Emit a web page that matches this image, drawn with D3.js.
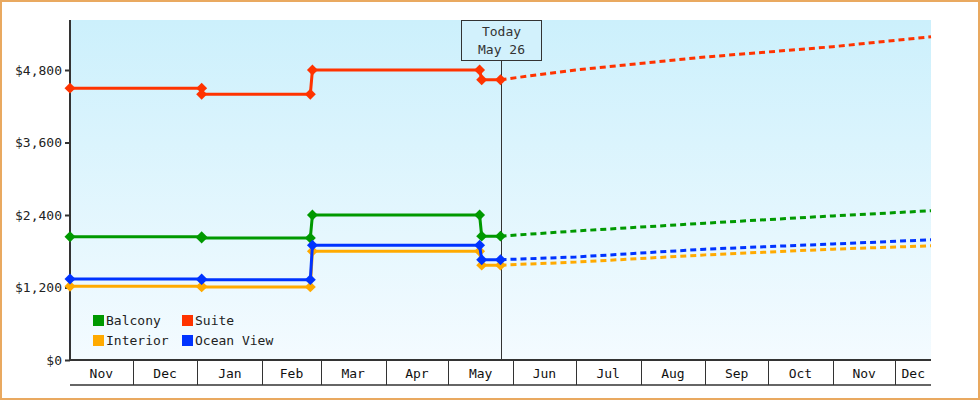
<!DOCTYPE html>
<html>
<head>
<meta charset="utf-8">
<script src="https://cdn.jsdelivr.net/npm/d3@7"></script>
<style>
body{margin:0;background:#fff;}
svg{display:block;font-family:"DejaVu Sans Mono",monospace;}
</style>
</head>
<body>
<div class="canvas"></div>
<script>
var W = 980, H = 400;
var margin = {t:20,l:70,b:40,r:49},
    width = W-margin.l-margin.r,
    height = H-margin.t-margin.b;

var p = d3.timeParse("%Y-%m-%d");

// history: step points (date, price)
var seriesNames = ["Balcony","Suite","Interior","Ocean View"];
var colors = ["#009900","#ff3300","#ffaa00","#0033ff"];

var histDates = ["2022-11-01","2023-01-03","2023-01-03","2023-02-24","2023-02-25","2023-05-16","2023-05-17","2023-05-26"];
var balconyHist  = [2040,2040,2020,2020,2400,2400,2050,2050];
var suiteHist    = [4500,4500,4400,4400,4800,4800,4640,4640];
var interiorHist = [1220,1220,1210,1210,1800,1800,1570,1570];
var oceanHist    = [1340,1340,1330,1330,1900,1900,1660,1660];

// forecast (dashed)
var fcDates = ["2023-05-26","2023-07-01","2023-09-01","2023-11-01","2023-12-18"];
var balconyFc  = [2050,2135,2265,2385,2470];
var suiteFc    = [4640,4800,5015,5185,5350];
var interiorFc = [1570,1620,1740,1835,1890];
var oceanFc    = [1660,1705,1835,1920,1990];

var yTicks = [0,1200,2400,3600,4800];
var monthLabels = ["Nov","Dec","Jan","Feb","Mar","Apr","May","Jun","Jul","Aug","Sep","Oct","Nov","Dec"];
var today = "2023-05-26";

var hist = [balconyHist,suiteHist,interiorHist,oceanHist];
var fc = [balconyFc,suiteFc,interiorFc,oceanFc];
var FS = 13;

var svg = d3.select('.canvas').append('svg').attr('width',W).attr('height',H);
svg.append('rect').attr('x',1).attr('y',1).attr('width',W-2).attr('height',H-2)
   .attr('fill','#fff').attr('stroke','#e9a960').attr('stroke-width',2);

var defs = svg.append('defs');
var grad = defs.append('linearGradient').attr('id','bg').attr('x1',0).attr('y1',0).attr('x2',0).attr('y2',1);
grad.append('stop').attr('offset','0%').attr('stop-color','#ccf0fc');
grad.append('stop').attr('offset','100%').attr('stop-color','#f4fbff');

var g = svg.append('g').attr('transform',"translate("+margin.l+","+margin.t+")");

var x = d3.scaleTime().domain([p("2022-11-01"),p("2023-12-18")]).range([0,width]);
var y = d3.scaleLinear().domain([0,4800*height/290]).range([height,0]);

g.append('rect').attr('width',width).attr('height',height).attr('fill','url(#bg)');

// y axis
var yAxis = g.append('g').call(d3.axisLeft(y).tickValues(yTicks).tickSize(5).tickFormat(function(d){return "$"+d3.format(",")(d);}));
yAxis.select('.domain').remove();
yAxis.selectAll('line').attr('stroke','#333').attr('stroke-width',2);
yAxis.selectAll('text').attr('font-size',FS).attr('fill','#222').attr('font-family','"DejaVu Sans Mono",monospace');
g.append('line').attr('x1',0).attr('x2',0).attr('y1',0).attr('y2',height).attr('stroke','#333').attr('stroke-width',2);

// x axis boxes
var months = d3.timeMonth.range(p("2022-11-01"),p("2023-12-18"));
var xa = g.append('g').attr('transform','translate(0,'+height+')');
xa.append('line').attr('x1',0).attr('x2',width).attr('stroke','#333').attr('stroke-width',2);
xa.append('line').attr('x1',0).attr('x2',width).attr('y1',25).attr('y2',25).attr('stroke','#333').attr('stroke-width',1.5);
xa.selectAll('line.sep').data(months.slice(1)).enter().append('line').attr('class','sep')
  .attr('x1',function(d){return Math.round(x(d))+0.5;}).attr('x2',function(d){return Math.round(x(d))+0.5;})
  .attr('y1',0).attr('y2',25).attr('stroke','#333');
xa.selectAll('text').data(months).enter().append('text')
  .attr('x',function(d,i){var e = i<months.length-1?months[i+1]:x.domain()[1]; return (x(d)+x(e))/2;})
  .attr('y',18).attr('text-anchor','middle').attr('font-size',FS).attr('fill','#111')
  .text(function(d,i){return monthLabels[i];});

// today marker
var tx = Math.round(x(p(today)))+0.5;
g.append('line').attr('x1',tx).attr('x2',tx).attr('y1',40).attr('y2',height).attr('stroke','#333');
g.append('rect').attr('x',tx-40).attr('y',0.5).attr('width',80).attr('height',40).attr('fill','#d2f1fc').attr('stroke','#333');
g.append('text').attr('x',tx).attr('y',16).attr('text-anchor','middle').attr('font-size',FS).attr('fill','#333').text("Today");
g.append('text').attr('x',tx).attr('y',34).attr('text-anchor','middle').attr('font-size',FS).attr('fill','#333').text("May 26");

var line = d3.line().x(function(d){return x(d[0]);}).y(function(d){return y(d[1]);});
var marker = d3.symbol().type(d3.symbolSquare).size(60);

var order = [2,0,3,1];
order.forEach(function(i){
  var hp = histDates.map(function(d,k){return [p(d),hist[i][k]];});
  var fp = fcDates.map(function(d,k){return [p(d),fc[i][k]];});
  g.append('path').datum(fp).attr('d',line).attr('fill','none').attr('stroke',colors[i])
    .attr('stroke-width',3).attr('stroke-dasharray','6,4');
  g.append('path').datum(hp).attr('d',line).attr('fill','none').attr('stroke',colors[i]).attr('stroke-width',3);
  g.selectAll(null).data(hp).enter().append('path').attr('d',marker)
    .attr('transform',function(d){return 'translate('+x(d[0])+','+y(d[1])+') rotate(45)';}).attr('fill',colors[i]);
});

// legend
var lg = g.append('g').attr('transform','translate(23,295)');
seriesNames.forEach(function(n,i){
  var cx = (i%2)*89, cy = Math.floor(i/2)*20;
  lg.append('rect').attr('x',cx).attr('y',cy).attr('width',11).attr('height',11).attr('fill',colors[i]);
  lg.append('text').attr('x',cx+13).attr('y',cy+10).attr('font-size',FS).attr('fill','#222').text(n);
});
</script>
</body>
</html>
